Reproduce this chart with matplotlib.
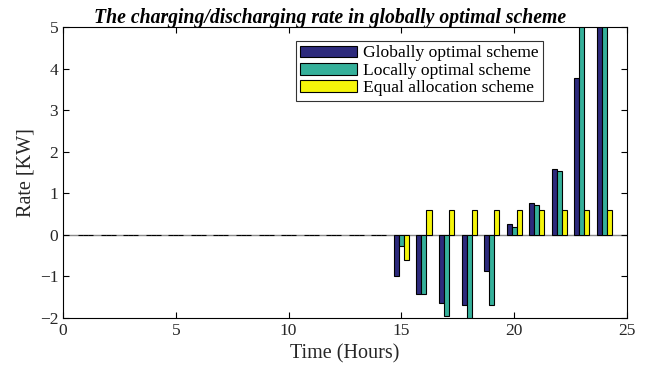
import numpy as np
import matplotlib
matplotlib.use("Agg")
import matplotlib.pyplot as plt

plt.rcParams['font.family'] = ['Liberation Serif', 'DejaVu Serif']

hours = np.arange(1, 25)
zeros14 = [0.0] * 14
globally = zeros14 + [-1.0, -1.42, -1.65, -1.68, -0.87, 0.26, 0.77, 1.58, 3.77, 5.6]
locally = zeros14 + [-0.27, -1.42, -1.95, -2.3, -1.68, 0.18, 0.71, 1.55, 5.6, 5.6]
equal = zeros14 + [-0.6, 0.6, 0.6, 0.6, 0.6, 0.6, 0.6, 0.6, 0.6, 0.6]

names = ["Globally optimal scheme", "Locally optimal scheme", "Equal allocation scheme"]
colors = ["#2d2a7c", "#35b09a", "#f5f50a"]

fig = plt.figure(figsize=(6.57, 3.67), dpi=100)
ax = fig.add_axes([0.0959, 0.1335, 0.8585, 0.7925])

w = 0.222
ax.axhline(0, color="#8a8a8a", lw=1.0, zorder=1)
for i, (vals, c, n) in enumerate(zip([globally, locally, equal], colors, names)):
    ax.bar(hours + (i - 1) * w, vals, width=w, color=c, edgecolor="black",
           linewidth=0.8, label=n, zorder=2)

ax.set_xlim(0, 25)
ax.set_ylim(-2, 5)
ax.set_xticks([0, 5, 10, 15, 20, 25])
ax.set_yticks(range(-2, 6))
ax.tick_params(direction="in", top=True, right=True, labelsize=12.5, length=4,
               labelcolor="#262626")
for s in ax.spines.values():
    s.set_linewidth(0.8)

ax.set_xlabel("Time (Hours)", fontsize=14.5, labelpad=4, color="#262626")
ax.set_ylabel("Rate [KW]", fontsize=14.5, labelpad=3, color="#262626")
ax.set_title("The charging/discharging rate in globally optimal scheme",
             fontsize=14.2, fontweight="bold", fontstyle="italic", pad=3, x=0.473)

leg = ax.legend(loc="upper left", bbox_to_anchor=(0.413, 0.952), fontsize=12.6,
                frameon=True, fancybox=False, edgecolor="black",
                handlelength=3.25, handleheight=0.65, borderpad=0.25,
                labelspacing=0.08, handletextpad=0.35, borderaxespad=0)
leg.get_frame().set_linewidth(0.8)

fig.savefig("out.png", dpi=100)
